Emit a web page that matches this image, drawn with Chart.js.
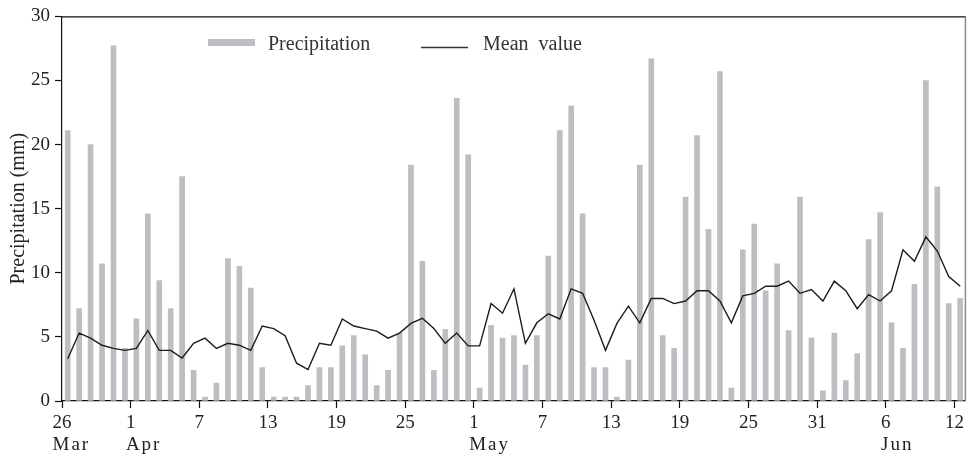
<!DOCTYPE html>
<html><head><meta charset="utf-8">
<script src="https://cdn.jsdelivr.net/npm/chart.js@4.4.1/dist/chart.umd.min.js"></script>
<style>html,body{margin:0;padding:0;background:#fff}canvas{display:block}</style>
</head><body>
<canvas id="c" width="968" height="456"></canvas>
<script>
// Daily precipitation, 26 Mar .. 12 Jun (79 days)
const precipitation = [
  21.1, 7.2, 20.0, 10.7, 27.7, 4.1, 6.4, 14.6, 9.4, 7.2,
  17.5, 2.4, 0.3, 1.4, 11.1, 10.5, 8.8, 2.6, 0.3, 0.3,
  0.3, 1.2, 2.6, 2.6, 4.3, 5.1, 3.6, 1.2, 2.4, 5.3,
  18.4, 10.9, 2.4, 5.6, 23.6, 19.2, 1.0, 5.9, 4.9, 5.1,
  2.8, 5.1, 11.3, 21.1, 23.0, 14.6, 2.6, 2.6, 0.3, 3.2,
  18.4, 26.7, 5.1, 4.1, 15.9, 20.7, 13.4, 25.7, 1.0, 11.8,
  13.8, 8.6, 10.7, 5.5, 15.9, 4.9, 0.8, 5.3, 1.6, 3.7,
  12.6, 14.7, 6.1, 4.1, 9.1, 25.0, 16.7, 7.6, 8.0
];
const meanValue = [
  3.3, 5.3, 4.9, 4.35, 4.1, 3.95, 4.1, 5.5, 3.95, 3.95,
  3.35, 4.5, 4.9, 4.1, 4.5, 4.35, 3.95, 5.85, 5.65, 5.1,
  2.95, 2.45, 4.5, 4.35, 6.4, 5.85, 5.65, 5.45, 4.9, 5.3,
  6.05, 6.45, 5.65, 4.5, 5.3, 4.3, 4.3, 7.6, 6.85, 8.75,
  4.5, 6.1, 6.8, 6.4, 8.75, 8.4, 6.3, 3.95, 6.05, 7.4,
  6.1, 8.0, 8.0, 7.6, 7.8, 8.6, 8.6, 7.8, 6.1, 8.2,
  8.4, 8.95, 8.95, 9.35, 8.4, 8.7, 7.8, 9.35, 8.6, 7.2,
  8.3, 7.8, 8.6, 11.8, 10.9, 12.8, 11.7, 9.7, 8.95
];
const tickDays   = [0, 6, 12, 18, 24, 30, 36, 42, 48, 54, 60, 66, 72, 78];
const tickLabels = ['26','1','7','13','19','25','1','7','13','19','25','31','6','12'];
const monthDays   = [0, 6, 36, 72];
const monthLabels = ['Mar', 'Apr', 'May', 'Jun'];
const yTitle = 'Precipitation (mm)';

const FONT = "'Liberation Serif','DejaVu Serif',serif";
const TXT = '#222';
const dayCount = precipitation.length;

const decor = {
  id: 'decor',
  afterDraw(chart) {
    const {ctx, chartArea: a, scales: {x}} = chart;
    ctx.save();
    // top and right frame
    ctx.strokeStyle = '#111'; ctx.lineWidth = 1.2;
    ctx.beginPath(); ctx.moveTo(a.left, a.top + 0.5); ctx.lineTo(a.right, a.top + 0.5); ctx.stroke();
    ctx.strokeStyle = '#8a8a8a'; ctx.lineWidth = 1.5;
    ctx.beginPath(); ctx.moveTo(a.right - 0.5, a.top); ctx.lineTo(a.right - 0.5, a.bottom); ctx.stroke();
    // month labels, left-aligned with the day label
    ctx.font = '19px ' + FONT; ctx.fillStyle = TXT;
    ctx.textAlign = 'left'; ctx.textBaseline = 'alphabetic';
    monthDays.forEach((d, k) => {
      const lab = tickLabels[tickDays.indexOf(d)];
      ctx.letterSpacing = '0px';
      const w = ctx.measureText(lab).width;
      ctx.letterSpacing = '2px';
      ctx.fillText(monthLabels[k], x.getPixelForValue(d) - w / 2, a.bottom + 49);
    });
    ctx.letterSpacing = '0px';
    // legend
    const bar = chart.data.datasets[1], line = chart.data.datasets[0];
    ctx.font = '20px ' + FONT;
    ctx.fillStyle = bar.backgroundColor;
    ctx.fillRect(208, 39, 47, 7);
    ctx.fillStyle = '#333';
    ctx.fillText(bar.label, 268, 50);
    ctx.strokeStyle = '#333'; ctx.lineWidth = 1.4;
    ctx.beginPath(); ctx.moveTo(421, 47.5); ctx.lineTo(468, 47.5); ctx.stroke();
    ctx.fillText(line.label.replace(' ', '  '), 483, 50);
    ctx.restore();
  }
};

new Chart(document.getElementById('c'), {
  type: 'bar',
  data: {
    datasets: [
      { type: 'line', label: 'Mean value',
        data: meanValue.map((v, i) => ({x: i + 0.5, y: v})),
        borderColor: '#1c1c1c', borderWidth: 1.4, pointRadius: 0, tension: 0, order: 0 },
      { type: 'bar', label: 'Precipitation',
        data: precipitation.map((v, i) => ({x: i + 0.5, y: v})),
        backgroundColor: '#bebec2', borderWidth: 0, barThickness: 5, order: 1 }
    ]
  },
  options: {
    responsive: false, animation: false, events: [],
    layout: { padding: { top: 16, right: 2, left: 0, bottom: 0 } },
    plugins: { legend: { display: false }, tooltip: { enabled: false } },
    scales: {
      x: {
        type: 'linear', min: 0, max: dayCount, offset: false,
        afterBuildTicks: s => { s.ticks = tickDays.map(v => ({value: v})); },
        afterFit: s => { s.height = 55; },
        grid: { drawOnChartArea: false, offset: false, tickLength: 7, color: '#111', tickWidth: 1.2 },
        border: { color: '#111', width: 1.2 },
        ticks: { callback: (v, i) => tickLabels[i], padding: 4, color: TXT,
                 font: { family: FONT, size: 19 }, maxRotation: 0, autoSkip: false }
      },
      y: {
        min: 0, max: 30,
        afterFit: s => { s.width = 62; },
        ticks: { stepSize: 5, padding: 5, color: TXT, font: { family: FONT, size: 19 } },
        grid: { drawOnChartArea: false, tickLength: 7, color: '#111', tickWidth: 1.2 },
        border: { color: '#111', width: 1.2 },
        title: { display: true, text: yTitle, color: TXT,
                 font: { family: FONT, size: 20 }, padding: { top: 7, bottom: 0 } }
      }
    }
  },
  plugins: [decor]
});
</script>
</body></html>
